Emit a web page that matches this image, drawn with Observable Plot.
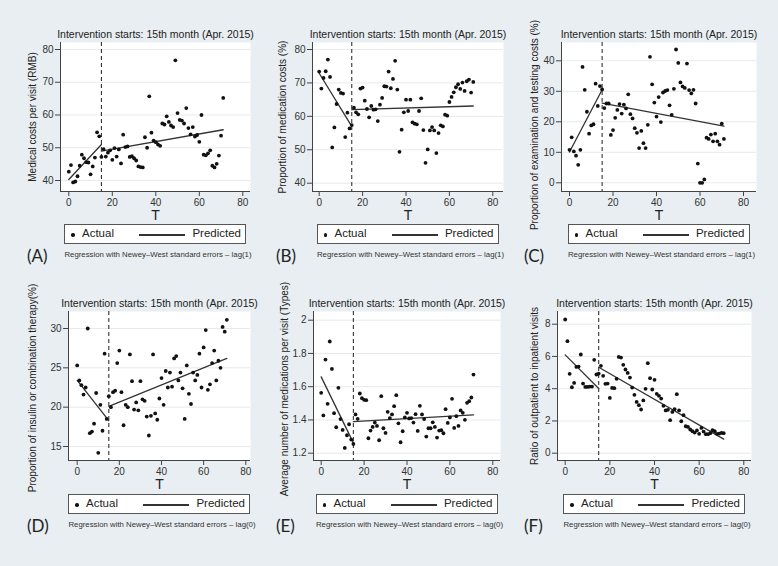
<!DOCTYPE html>
<html><head><meta charset="utf-8">
<script src="https://cdn.jsdelivr.net/npm/d3@7"></script>
<script src="https://cdn.jsdelivr.net/npm/@observablehq/plot@0.6"></script>
<style>
html,body{margin:0;padding:0;background:#e8eef1;}
#wrap{position:relative;width:778px;height:566px;overflow:hidden;background:#e8eef1;font-family:"Liberation Sans",Arial,sans-serif;}
#wrap svg{position:absolute;left:0;top:0;}
.lg{position:absolute;height:20px;width:182px;box-sizing:border-box;border:1px solid #555;background:#fff;font-size:11.5px;color:#222;}
.lg .dot{position:absolute;left:6px;top:8px;width:3.6px;height:3.6px;border-radius:50%;background:#111;}
.lg .a{position:absolute;left:17px;top:2px;}
.lg .ln{position:absolute;left:74px;top:9px;width:46px;height:1.5px;background:#333;}
.lg .p{position:absolute;right:4px;top:2px;}
.letter{position:absolute;font-family:Lato,"Open Sans",sans-serif;font-size:17px;color:#222;transform:translateY(-50%);}
.note{position:absolute;font-size:7.8px;color:#333;white-space:nowrap;transform:translate(-50%,-50%);}
</style>
</head><body>
<div id="wrap"></div>
<script>
// ---- data ----
const T = [0,1,2,3,4,5,6,7,8,9,10,11,12,13,14,15,16,17,18,19,20,21,22,23,24,25,26,27,28,29,30,31,32,33,34,35,36,37,38,39,40,41,42,43,44,45,46,47,48,49,50,51,52,53,54,55,56,57,58,59,60,61,62,63,64,65,66,67,68,69,70,71];
const xTicks = [0,20,40,60,80];
const interventionT = [15];
const preT = [0,15];
const postT = [15,71];

const medCost = [42.7,44.7,39.4,39.7,41.3,44.5,47.9,46.8,45.6,45.5,41.9,44.3,47.0,54.7,53.5,47.2,49.6,47.3,48.5,49.2,46.3,49.9,47.3,49.5,45.2,54.0,50.2,50.4,47.2,47.4,46.8,46.1,44.3,44.1,44.0,53.2,50.0,65.7,54.6,52.2,51.7,51.0,50.6,57.4,57.1,59.6,57.9,56.8,56.3,76.7,60.6,58.5,58.3,57.4,62.1,56.0,54.1,56.3,53.4,53.9,51.8,60.0,47.9,47.7,48.3,49.2,44.5,44.0,45.1,47.6,53.7,65.2];
const medCostPre = [40.3,51.0];
const medCostPost = [49.0,55.5];

const medProp = [73.4,68.3,71.5,73.5,77.0,71.8,50.7,56.7,63.7,68.0,67.0,66.8,53.8,61.1,56.4,57.4,62.6,61.2,60.6,68.3,68.6,64.7,62.2,59.7,63.1,62.0,62.1,58.6,63.5,65.5,69.0,68.9,73.4,68.4,71.2,76.6,68.0,49.4,56.0,61.2,65.0,61.6,65.0,58.2,57.8,57.6,61.6,65.4,55.9,46.1,50.1,55.8,56.8,55.8,49.0,55.0,57.3,57.0,60.5,60.2,64.3,65.8,67.2,68.7,69.6,68.2,70.1,67.6,70.5,71.0,67.1,70.3];
const medPropPre = [72.9,57.0];
const medPropPost = [62.0,63.1];

const examProp = [10.8,14.9,10.3,8.9,5.9,10.8,38.0,30.5,23.3,16.1,18.8,19.2,32.5,25.2,31.7,30.6,24.5,26.0,26.0,15.7,17.3,21.3,23.9,25.8,22.7,25.6,24.4,29.0,22.5,21.1,17.9,16.4,11.4,17.0,13.0,11.4,19.0,41.3,32.3,26.3,21.7,28.1,19.9,29.6,30.1,30.4,25.4,22.3,30.8,43.7,39.3,32.9,31.6,31.1,39.1,30.4,29.3,30.5,26.0,6.3,0,0,1.1,14.8,14.4,15.8,13.6,16.1,13.6,12.5,19.4,14.4];
const examPropPre = [10.1,30.5];
const examPropPost = [26.1,18.6];

const insulinProp = [25.3,23.4,22.8,21.6,22.5,30.0,16.7,16.9,17.9,21.8,14.2,20.3,17.0,26.8,18.5,21.4,20.0,21.9,22.1,25.6,27.2,21.9,17.7,20.3,20.0,26.7,23.3,19.7,20.6,19.6,23.3,21.0,20.8,18.8,16.4,18.9,26.7,19.2,18.4,21.1,23.7,20.3,24.6,22.5,24.4,22.6,26.2,26.5,23.4,24.4,22.4,18.5,25.3,21.7,20.4,24.4,23.4,24.1,26.8,22.5,27.6,29.8,22.2,22.9,25.6,27.2,23.4,25.9,25.0,30.2,29.6,31.1];
const insulinPre = [23.4,18.3];
const insulinPost = [20.1,26.2];

const medsPerVisit = [1.563,1.427,1.763,1.497,1.872,1.707,1.441,1.356,1.593,1.405,1.340,1.232,1.308,1.374,1.282,1.256,1.433,1.407,1.559,1.531,1.521,1.519,1.290,1.336,1.358,1.384,1.364,1.278,1.543,1.350,1.322,1.449,1.411,1.433,1.483,1.549,1.380,1.266,1.332,1.415,1.443,1.409,1.411,1.384,1.435,1.334,1.485,1.433,1.405,1.300,1.350,1.350,1.386,1.358,1.294,1.336,1.338,1.320,1.465,1.382,1.415,1.527,1.352,1.423,1.364,1.457,1.443,1.401,1.503,1.513,1.535,1.673];
const medsPre = [1.659,1.262];
const medsPost = [1.390,1.431];

const outInRatio = [8.29,6.95,4.92,4.09,4.36,5.35,5.37,6.12,4.32,4.11,4.11,4.13,4.13,5.79,4.88,4.94,5.42,4.80,4.30,4.32,3.43,4.05,4.03,4.61,5.97,5.93,5.48,5.19,4.98,4.69,4.07,3.62,3.18,2.98,2.71,3.27,3.99,5.58,4.65,3.95,4.55,3.68,3.56,3.39,2.94,2.65,2.69,2.05,2.56,2.73,3.66,2.65,1.98,2.36,1.67,1.63,1.47,1.36,1.28,1.41,1.20,1.57,1.34,1.18,1.18,1.24,1.43,1.36,1.20,1.22,1.26,1.24];
const ratioPre = [6.10,4.01];
const ratioPost = [5.33,0.87];

const yTicksA = [40,50,60,70,80];
const yTicksB = [40,50,60,70,80];
const yTicksC = [0,10,20,30,40];
const yTicksD = [15,20,25,30];
const yTicksE = [1.2,1.4,1.6,1.8,2];
const yTicksF = [0,2,4,6,8];

const titleText = "Intervention starts: 15th month (Apr. 2015)";
const legendActual = "Actual";
const legendPredicted = "Predicted";
const xLabel = "T";

// ---- panels ----
const panels = [
  {id:"(A)", ylabel:"Medical costs per visit (RMB)", values:medCost, pre:medCostPre, post:medCostPost, yTicks:yTicksA, note:"Regression with Newey\u2013West standard errors \u2013 lag(1)"},
  {id:"(B)", ylabel:"Proportion of medication costs (%)", values:medProp, pre:medPropPre, post:medPropPost, yTicks:yTicksB, note:"Regression with Newey\u2013West standard errors \u2013 lag(1)"},
  {id:"(C)", ylabel:"Proportion of examination and testing costs (%)", values:examProp, pre:examPropPre, post:examPropPost, yTicks:yTicksC, note:"Regression with Newey\u2013West standard errors \u2013 lag(1)"},
  {id:"(D)", ylabel:"Proportion of insulin or combination therapy(%)", values:insulinProp, pre:insulinPre, post:insulinPost, yTicks:yTicksD, note:"Regression with Newey\u2013West standard errors \u2013 lag(0)"},
  {id:"(E)", ylabel:"Average number of medications per visit (Types)", values:medsPerVisit, pre:medsPre, post:medsPost, yTicks:yTicksE, note:"Regression with Newey\u2013West standard errors \u2013 lag(0)"},
  {id:"(F)", ylabel:"Ratio of outpatient to inpatient visits", values:outInRatio, pre:ratioPre, post:ratioPost, yTicks:yTicksF, note:"Regression with Newey\u2013West standard errors \u2013 lag(0)"}
];

// ---- layout (page pixels) ----
const layout = [
  {L:60, R:250, T:42, B:191, x0:68.3, x80:242.3, ya:[80,49], yb:[40,180], labOff:32, labDy:0, letterX:27, legTop:224, rowY:254},
  {L:312, R:503, T:42, B:191, x0:318.7, x80:492.3, ya:[80,49], yb:[40,182.7], labOff:34, labDy:0, letterX:276, legTop:224, rowY:254},
  {L:561, R:756, T:42, B:191, x0:569, x80:743, ya:[40,60.3], yb:[0,182.3], labOff:31, labDy:8, letterX:524, legTop:224, rowY:254},
  {L:68, R:250, T:311, B:460, x0:76.7, x80:245.3, ya:[30,328], yb:[15,446], labOff:40, labDy:2, letterX:27, legTop:494, rowY:524},
  {L:313, R:500, T:311, B:460, x0:320.7, x80:492.3, ya:[2,319.7], yb:[1.2,452.7], labOff:33, labDy:3, letterX:276, legTop:494, rowY:524},
  {L:557, R:751, T:311, B:460, x0:564.7, x80:743.3, ya:[8,323.7], yb:[0,452.7], labOff:27, labDy:0, letterX:524, legTop:494, rowY:524}
];

const FONT = '"Liberation Sans", Arial, sans-serif';
const wrap = document.getElementById("wrap");

panels.forEach((p, k) => {
  const g = layout[k];
  const s = (g.x80 - g.x0) / 80;
  const xDom = [(g.L - g.x0) / s, (g.R - g.x0) / s];
  const yv = px => g.ya[0] + (px - g.ya[1]) * (g.yb[0] - g.ya[0]) / (g.yb[1] - g.ya[1]);
  const yDom = [yv(g.B), yv(g.T)];
  const pts = T.map((t, i) => ({T: t, v: p.values[i]}));
  const pre = preT.map((t, i) => ({T: t, v: p.pre[i]}));
  const post = postT.map((t, i) => ({T: t, v: p.post[i]}));
  const svg = Plot.plot({
    width: 778, height: 566,
    marginLeft: g.L, marginRight: 778 - g.R, marginTop: g.T, marginBottom: 566 - g.B,
    style: {background: "transparent", fontFamily: FONT, fontSize: "10px", color: "#333", overflow: "visible"},
    x: {domain: xDom},
    y: {domain: yDom},
    marks: [
      Plot.frame({fill: "#fff", stroke: null}),
      Plot.gridY(p.yTicks, {stroke: "#e3ebee", strokeOpacity: 1, strokeWidth: 1}),
      Plot.ruleX(interventionT, {stroke: "#333", strokeWidth: 1.1, strokeDasharray: "4,3"}),
      Plot.ruleX([xDom[0]], {stroke: "#444"}),
      Plot.ruleY([yDom[0]], {stroke: "#444"}),
      Plot.axisY(p.yTicks, {tickSize: 5, tickPadding: 2, label: null, tickFormat: d => String(d), stroke: "#444", fill: "#333", fontSize: 10}),
      Plot.axisX(xTicks, {tickSize: 5, tickPadding: 2, label: null, tickFormat: d => String(d), stroke: "#444", fill: "#333", fontSize: 10}),
      Plot.text([p.ylabel], {frameAnchor: "left", textAnchor: "middle", rotate: -90, dx: -g.labOff, dy: g.labDy, lineAnchor: "top", fontSize: 10, fill: "#222"}),
      Plot.text([xLabel], {frameAnchor: "bottom", textAnchor: "middle", dy: 19, lineAnchor: "top", fontSize: 14, fill: "#222"}),
      Plot.text([titleText], {frameAnchor: "top", textAnchor: "middle", dy: -5, lineAnchor: "bottom", fontSize: 10.5, fill: "#222"}),
      Plot.line(pre, {x: "T", y: "v", stroke: "#333", strokeWidth: 1.3}),
      Plot.line(post, {x: "T", y: "v", stroke: "#333", strokeWidth: 1.3}),
      Plot.dot(pts, {x: "T", y: "v", r: 1.9, fill: "#111", stroke: null})
    ]
  });
  wrap.appendChild(svg);

  const cx = (g.L + g.R) / 2;
  const lg = document.createElement("div");
  lg.className = "lg";
  lg.style.left = (cx - 91) + "px";
  lg.style.top = g.legTop + "px";
  lg.innerHTML = `<span class="dot"></span><span class="a">${legendActual}</span><span class="ln"></span><span class="p">${legendPredicted}</span>`;
  wrap.appendChild(lg);

  const letter = document.createElement("div");
  letter.className = "letter";
  letter.style.left = g.letterX + "px";
  letter.style.top = (g.rowY + 1) + "px";
  letter.textContent = p.id;
  wrap.appendChild(letter);

  const note = document.createElement("div");
  note.className = "note";
  note.style.left = (cx + 3) + "px";
  note.style.top = g.rowY + "px";
  note.textContent = p.note;
  wrap.appendChild(note);
});
</script>
</body></html>
